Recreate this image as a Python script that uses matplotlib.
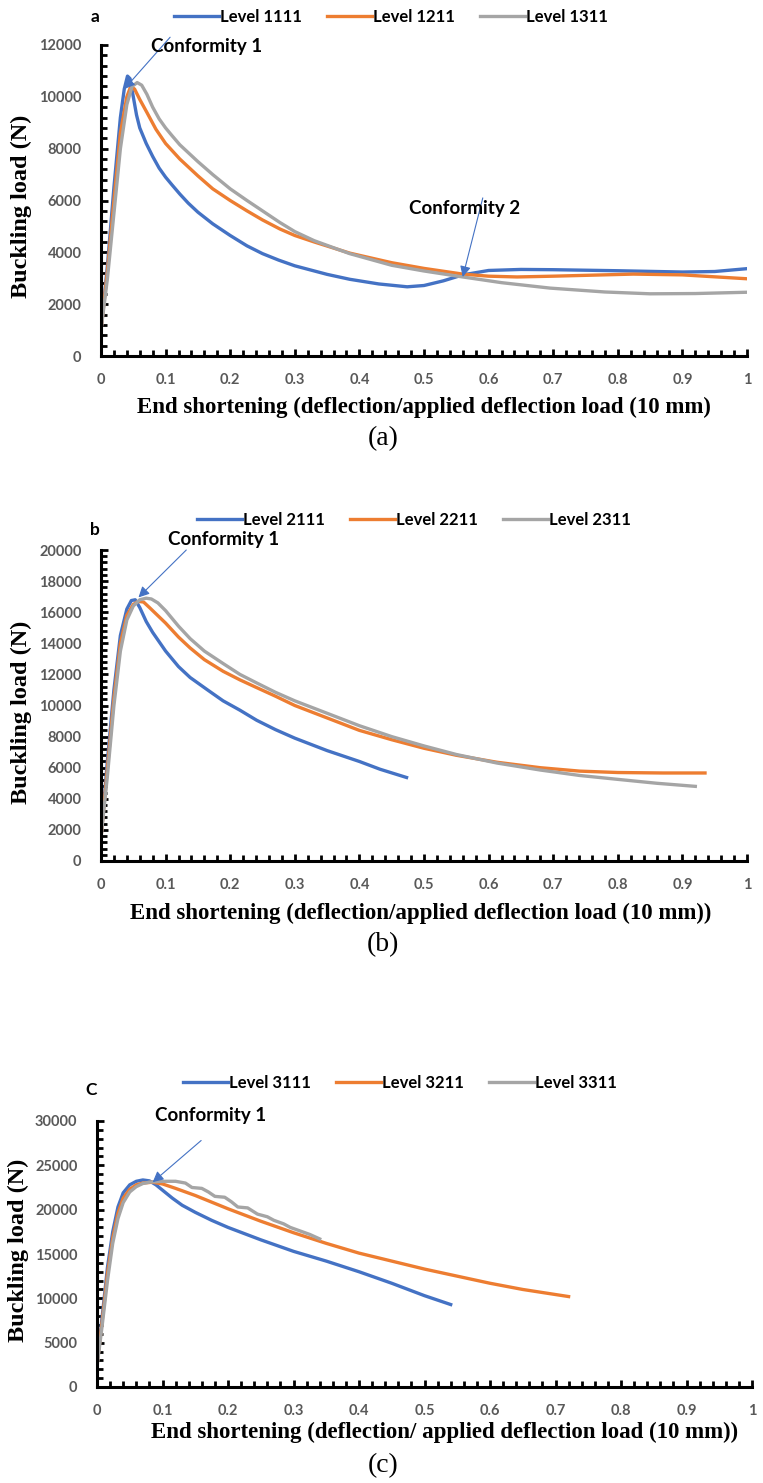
import matplotlib
matplotlib.use("Agg")
import matplotlib.pyplot as plt
from matplotlib.ticker import MultipleLocator

BLUE = "#4472C4"
ORANGE = "#ED7D31"
GRAY = "#A5A5A5"

# ---- panel (a) ----
a_x_1111 = [0, 0.01, 0.02, 0.03, 0.036, 0.041, 0.045, 0.05, 0.055, 0.06, 0.07, 0.08, 0.09, 0.1, 0.11,
            0.122, 0.135, 0.15, 0.173, 0.2, 0.226, 0.25, 0.275, 0.3, 0.35, 0.385, 0.43, 0.474, 0.5, 0.53,
            0.56, 0.6, 0.65, 0.7, 0.8, 0.9, 0.95, 1.0]
a_y_1111 = [1000, 3500, 6500, 9200, 10300, 10800, 10700, 10000, 9300, 8800, 8200, 7700, 7250, 6900, 6600,
            6250, 5900, 5550, 5100, 4650, 4250, 3950, 3700, 3480, 3150, 2960, 2780, 2670, 2720, 2900,
            3130, 3300, 3340, 3330, 3290, 3240, 3260, 3370]
a_x_1211 = [0, 0.01, 0.02, 0.03, 0.04, 0.046, 0.052, 0.06, 0.071, 0.085, 0.1, 0.122, 0.15, 0.173, 0.2,
            0.226, 0.25, 0.277, 0.3, 0.33, 0.385, 0.45, 0.5, 0.56, 0.6, 0.644, 0.7, 0.824, 0.9, 1.0]
a_y_1211 = [1000, 3300, 6000, 8600, 10000, 10400, 10300, 9900, 9400, 8750, 8200, 7600, 6950, 6450, 6000,
            5600, 5250, 4900, 4650, 4400, 3970, 3600, 3380, 3160, 3080, 3050, 3080, 3160, 3130, 2980]
a_x_1311 = [0, 0.01, 0.02, 0.03, 0.04, 0.048, 0.056, 0.063, 0.071, 0.08, 0.09, 0.1, 0.11, 0.122, 0.15,
            0.173, 0.2, 0.226, 0.25, 0.277, 0.3, 0.33, 0.385, 0.45, 0.5, 0.56, 0.62, 0.695, 0.78, 0.85,
            0.92, 1.0]
a_y_1311 = [1000, 3000, 5500, 8000, 9700, 10400, 10550, 10450, 10100, 9600, 9150, 8800, 8500, 8150, 7500,
            7000, 6450, 6000, 5600, 5150, 4800, 4450, 3950, 3500, 3280, 3050, 2830, 2620, 2470, 2400,
            2410, 2460]

# ---- panel (b) ----
b_x_2111 = [0, 0.01, 0.02, 0.03, 0.04, 0.047, 0.053, 0.06, 0.07, 0.08, 0.09, 0.1, 0.12, 0.138, 0.165,
            0.189, 0.215, 0.241, 0.27, 0.3, 0.35, 0.4, 0.432, 0.473]
b_y_2111 = [1500, 6500, 11000, 14500, 16200, 16750, 16800, 16300, 15400, 14700, 14100, 13500, 12500, 11800, 11000,
            10300, 9700, 9050, 8450, 7900, 7100, 6400, 5900, 5370]
b_x_2211 = [0, 0.01, 0.02, 0.03, 0.04, 0.05, 0.058, 0.066, 0.075, 0.09, 0.1, 0.12, 0.138, 0.16, 0.189,
            0.215, 0.241, 0.27, 0.3, 0.35, 0.4, 0.45, 0.5, 0.55, 0.613, 0.68, 0.741, 0.8, 0.87, 0.935]
b_y_2211 = [1500, 6000, 10500, 14000, 15800, 16500, 16700, 16650, 16300, 15700, 15300, 14400, 13700, 12950, 12200,
            11650, 11150, 10600, 10000, 9200, 8400, 7800, 7250, 6800, 6350, 6000, 5780, 5690, 5660, 5660]
b_x_2311 = [0, 0.01, 0.02, 0.03, 0.04, 0.05, 0.06, 0.07, 0.078, 0.088, 0.1, 0.12, 0.138, 0.16, 0.189,
            0.215, 0.241, 0.27, 0.3, 0.35, 0.4, 0.45, 0.5, 0.55, 0.613, 0.68, 0.741, 0.8, 0.86, 0.92]
b_y_2311 = [1500, 5500, 10000, 13500, 15500, 16400, 16800, 16900, 16850, 16600, 16100, 15100, 14300, 13500, 12700,
            12000, 11450, 10850, 10300, 9500, 8700, 8000, 7400, 6850, 6300, 5850, 5500, 5250, 5000, 4800]

# ---- panel (c) ----
c_x_3111 = [0, 0.008, 0.016, 0.024, 0.032, 0.04, 0.05, 0.06, 0.07, 0.08, 0.09, 0.1, 0.115, 0.13, 0.15,
            0.175, 0.2, 0.25, 0.3, 0.35, 0.4, 0.45, 0.5, 0.54]
c_y_3111 = [2500, 8000, 13500, 17500, 20300, 21900, 22800, 23200, 23350, 23250, 22800, 22200, 21300, 20500, 19700,
            18800, 18000, 16600, 15300, 14200, 13000, 11700, 10300, 9300]
c_x_3211 = [0, 0.008, 0.016, 0.024, 0.032, 0.04, 0.05, 0.06, 0.07, 0.085, 0.1, 0.12, 0.15, 0.2, 0.25,
            0.3, 0.35, 0.4, 0.45, 0.5, 0.55, 0.6, 0.65, 0.72]
c_y_3211 = [2500, 7500, 12800, 16800, 19600, 21300, 22300, 22800, 23000, 23100, 22900, 22400, 21600, 20100, 18700,
            17400, 16200, 15100, 14200, 13300, 12500, 11700, 11000, 10200]
c_x_3311 = [0, 0.008, 0.016, 0.024, 0.032, 0.04, 0.05, 0.06, 0.07, 0.08, 0.1, 0.12, 0.135, 0.145, 0.16,
            0.17, 0.18, 0.195, 0.205, 0.215, 0.23, 0.245, 0.26, 0.27, 0.285, 0.295, 0.31, 0.325, 0.34]
c_y_3311 = [2300, 7000, 12000, 16200, 19000, 20800, 22000, 22600, 22950, 23100, 23200, 23200, 23000, 22500, 22400,
            22000, 21500, 21400, 20900, 20300, 20200, 19500, 19200, 18800, 18400, 18000, 17600, 17200, 16700]

W, H = 763, 1483
fig = plt.figure(figsize=(W / 100, H / 100), dpi=100)

TICK_FONT = dict(family="Lato", weight="bold", size=10.5, color="#595959")
XLABEL_FONT = dict(family="Liberation Serif", weight="bold", size=16.5)
YLABEL_FONT = dict(family="Liberation Serif", weight="bold", size=17.5)


def px(x, y):
    return x / W, 1 - y / H


def make_axes(left, right, top, bottom):
    l, t = px(left, top)
    r, b = px(right, bottom)
    return fig.add_axes([l, b, r - l, t - b])


def style(ax, ymax, ymajor, yminor):
    ax.set_xlim(0, 1)
    ax.set_ylim(0, ymax)
    ax.xaxis.set_major_locator(MultipleLocator(0.1))
    ax.xaxis.set_minor_locator(MultipleLocator(0.02))
    ax.yaxis.set_major_locator(MultipleLocator(ymajor))
    ax.yaxis.set_minor_locator(MultipleLocator(yminor))
    ax.xaxis.set_major_formatter(lambda v, p: f"{v:g}")
    for s in ("top", "right"):
        ax.spines[s].set_visible(False)
    for s in ("left", "bottom"):
        ax.spines[s].set_linewidth(2.2)
        ax.spines[s].set_color("black")
    ax.tick_params(which="both", direction="in", width=2, color="black")
    ax.tick_params(which="major", length=5)
    ax.tick_params(which="minor", length=4)
    ax.tick_params(axis="x", which="major", pad=12)
    ax.tick_params(axis="y", which="major", pad=14)
    for lab in ax.get_xticklabels() + ax.get_yticklabels():
        lab.set_fontfamily(TICK_FONT["family"])
        lab.set_fontweight(TICK_FONT["weight"])
        lab.set_fontsize(TICK_FONT["size"])
        lab.set_color(TICK_FONT["color"])


def legend(ax, cx, cy):
    lx, ly = px(cx, cy)
    fig.legend(handles=ax.get_lines(), loc="center", bbox_to_anchor=(lx, ly), ncol=3, frameon=False,
               handlelength=2.7, handletextpad=0.05, columnspacing=1.5,
               prop=dict(family="Lato", weight="bold", size=12))


def annotate(ax, text, xy, xytext, text_xy):
    ax.annotate("", xy=xy, xytext=xytext, annotation_clip=False,
                arrowprops=dict(arrowstyle="-|>", color=BLUE, lw=0.8, mutation_scale=16, shrinkA=0, shrinkB=0))
    ax.text(text_xy[0], text_xy[1], text, ha="center", va="center", family="Lato", weight="bold",
            size=13.5, clip_on=False)


LW = 2.4

# panel a
ax_a = make_axes(101, 747, 45, 356)
ax_a.plot(a_x_1111, a_y_1111, color=BLUE, lw=LW, label="Level 1111")
ax_a.plot(a_x_1211, a_y_1211, color=ORANGE, lw=LW, label="Level 1211")
ax_a.plot(a_x_1311, a_y_1311, color=GRAY, lw=LW, label="Level 1311")
style(ax_a, 12000, 2000, 400)
legend(ax_a, 391, 17)
annotate(ax_a, "Conformity 1", (0.036, 10300), (0.107, 12300), (0.164, 11950))
annotate(ax_a, "Conformity 2", (0.56, 3050), (0.591, 6100), (0.563, 5700))

# panel b
ax_b = make_axes(101, 747, 550, 861)
ax_b.plot(b_x_2111, b_y_2111, color=BLUE, lw=LW, label="Level 2111")
ax_b.plot(b_x_2211, b_y_2211, color=ORANGE, lw=LW, label="Level 2211")
ax_b.plot(b_x_2311, b_y_2311, color=GRAY, lw=LW, label="Level 2311")
style(ax_b, 20000, 2000, 400)
legend(ax_b, 414, 520)
annotate(ax_b, "Conformity 1", (0.058, 16950), (0.132, 20000), (0.19, 20650))

# panel c
ax_c = make_axes(97, 752, 1121, 1387)
ax_c.plot(c_x_3111, c_y_3111, color=BLUE, lw=LW, label="Level 3111")
ax_c.plot(c_x_3211, c_y_3211, color=ORANGE, lw=LW, label="Level 3211")
ax_c.plot(c_x_3311, c_y_3311, color=GRAY, lw=LW, label="Level 3311")
style(ax_c, 30000, 5000, 1000)
legend(ax_c, 400, 1083)
annotate(ax_c, "Conformity 1", (0.085, 23100), (0.159, 27800), (0.174, 30600))

# panel letters
for letter, (x, y) in [("a", (95, 17)), ("b", (95, 530)), ("C", (91, 1090))]:
    fx, fy = px(x, y)
    fig.text(fx, fy, letter, ha="center", va="center", family="Lato", weight="bold", size=12.5)

# y labels
for x, cy in ((21, 206), (21, 712), (18, 1250)):
    fx, fy = px(x, cy)
    fig.text(fx, fy, "Buckling load (N)", rotation=90, ha="center", va="center", **YLABEL_FONT)

# x labels and captions
xlabels = [
    ("End shortening (deflection/applied deflection load (10 mm)", 424, 407),
    ("End shortening (deflection/applied deflection load (10 mm))", 421, 913),
    ("End shortening (deflection/ applied deflection load (10 mm))", 445, 1432),
]
for text, x, y in xlabels:
    fx, fy = px(x, y)
    fig.text(fx, fy, text, ha="center", va="center", **XLABEL_FONT)

for text, x, y in [("(a)", 383, 439), ("(b)", 383, 945), ("(c)", 383, 1466)]:
    fx, fy = px(x, y)
    fig.text(fx, fy, text, ha="center", va="center", family="Liberation Serif", size=20)

fig.savefig("out.png", dpi=100)
